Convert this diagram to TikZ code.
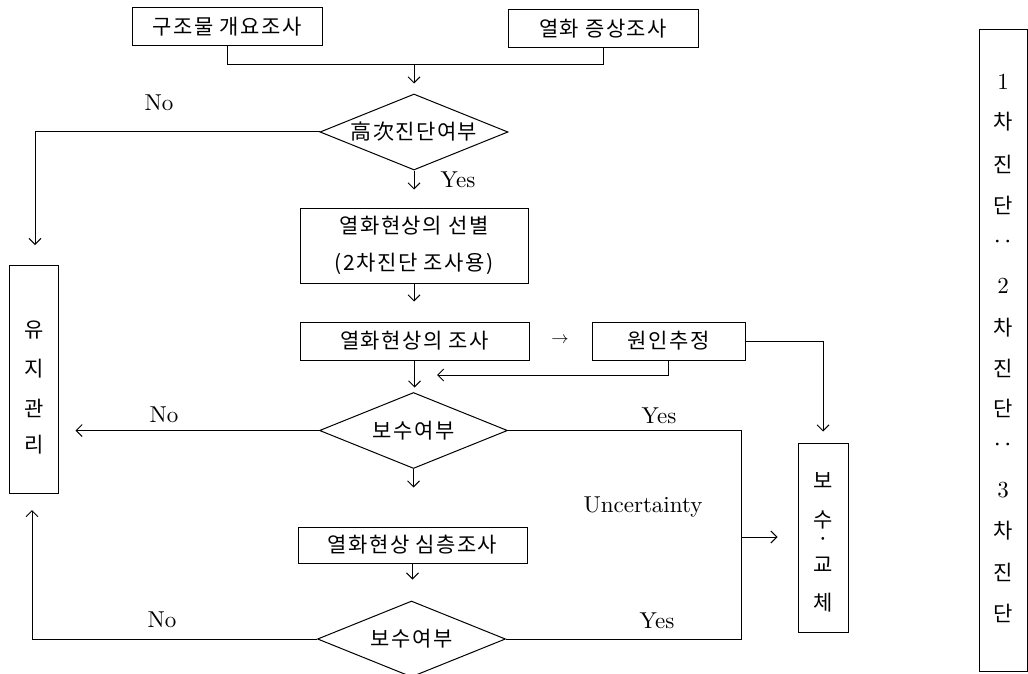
\documentclass[tikz,border=0pt]{standalone}
\usepackage{fontspec}
\newfontfamily\kr[LetterSpace=7]{Noto Sans CJK KR}
\newfontfamily\krv{Noto Sans CJK KR}
\newfontfamily\lat{lmroman10-regular.otf}
\usetikzlibrary{shapes.geometric,arrows.meta}
\begin{document}
\begin{tikzpicture}[x=1pt,y=-1pt,
  box/.style={draw, line width=1pt, inner sep=0pt, align=center, font=\kr\fontsize{21}{37}\selectfont},
  dia/.style={draw, diamond, aspect=2.47, line width=1pt, inner sep=0pt, minimum width=188pt, minimum height=76pt, font=\kr\fontsize{21}{24}\selectfont},
  lbl/.style={font=\lat\fontsize{23}{27}\selectfont, inner sep=0pt},
  vch/.style={font=\krv\fontsize{21}{24}\selectfont, inner sep=0pt},
  vnum/.style={font=\lat\fontsize{23}{26}\selectfont, inner sep=0pt},
  ln/.style={line width=1pt},
  arr/.style={line width=1pt, -{Straight Barb[length=6pt,width=12pt]}},
]
\useasboundingbox (0,0) rectangle (1028,674);

% boxes
\node[box, minimum width=190pt, minimum height=38pt] (A) at (227,27) {구조물 개요조사};
\node[box, minimum width=190pt, minimum height=38pt] (B) at (603,29) {열화 증상조사};
\node[dia] (d0) at (414,132) {高次진단여부};
\node[box, minimum width=228pt, minimum height=75pt] (sel) at (414,245.5) {열화현상의 선별\\(2차진단 조사용)};
\node[box, minimum width=229pt, minimum height=38pt] (cho) at (414.5,341) {열화현상의 조사};
\node[box, minimum width=153pt, minimum height=38pt] (won) at (668.5,341) {원인추정};
\node[dia] (d1) at (413.5,430.5) {보수여부};
\node[box, minimum width=229pt, minimum height=36pt] (sim) at (412.5,545) {열화현상 심층조사};
\node[dia] (d2) at (411.5,639) {보수여부};

% side boxes
\node[box, minimum width=49pt, minimum height=228pt] (yu) at (33.5,379) {};
\node[vch] (yu1) at (34,330) {유};
\node[vch] (yu2) at (34,369) {지};
\node[vch] (yu3) at (34,408) {관};
\node[vch] (yu4) at (34,445) {리};

\node[box, minimum width=50pt, minimum height=189pt] (bosu) at (823,537.5) {};
\node[vch] (bs1) at (823,480) {보};
\node[vch] (bs2) at (823,520) {수};
\node[vch] (bs3) at (823,542) {·};
\node[vch] (bs4) at (823,565) {교};
\node[vch] (bs5) at (823,603) {체};

\node[box, minimum width=48pt, minimum height=641pt] (stage) at (1003,350.5) {};
\node[vnum] (s1) at (1003,82) {1};
\node[vch] (s2) at (1003,122) {차};
\node[vch] (s3) at (1003,164) {진};
\node[vch] (s4) at (1003,205) {단};
\node[vch] (s5) at (1003,245) {‥};
\node[vnum] (s6) at (1003,286) {2};
\node[vch] (s7) at (1003,328) {차};
\node[vch] (s8) at (1003,368) {진};
\node[vch] (s9) at (1003,408) {단};
\node[vch] (s10) at (1003,448) {‥};
\node[vnum] (s11) at (1003,490) {3};
\node[vch] (s12) at (1003,531) {차};
\node[vch] (s13) at (1003,572) {진};
\node[vch] (s14) at (1003,613) {단};

% labels
\node[lbl] (no0) at (159,103) {No};
\node[lbl] (yes0) at (458,180) {Yes};
\node[lbl] (no1) at (164,415) {No};
\node[lbl] (yes1) at (659,416) {Yes};
\node[lbl] (unc) at (643,507) {Uncertainty};
\node[lbl] (no2) at (162,620) {No};
\node[lbl] (yes2) at (657,621) {Yes};
\node[font=\fontsize{17}{19}\selectfont, inner sep=0pt] (smallarr) at (560,340) {$\rightarrow$};

% coordinates
\coordinate (m) at (414,65);
\coordinate (n0) at (35,245);
\coordinate (fb) at (437,375);
\coordinate (n2) at (32,510);
\coordinate (c1) at (741,431);
\coordinate (c2) at (741,639);
\coordinate (c3) at (741,537);

% connectors
\draw[ln] (A.south) -- (A.south |- m) -- (B.south |- m) -- (B.south);
\draw[arr, shorten >=10pt] (m) -- (m |- d0.north);
\draw[arr] (d0.west) -| (n0);
\draw[arr, shorten >=18pt] (d0.south) -- (d0.south |- sel.north);
\draw[arr, shorten >=20pt] (sel.south) -- (sel.south |- cho.north);
\draw[arr, shorten >=4.5pt] (cho.south) -- (cho.south |- d1.north);
\draw[arr] (won.south) |- (fb);
\draw[arr, shorten >=11pt] (won.east) -| (bosu.north);
\draw[arr, shorten >=17pt] (d1.west) -- (d1.west -| yu.east);
\draw[arr, shorten >=39pt] (d1.south) -- (d1.south |- sim.north);
\draw[arr, shorten >=21pt] (sim.south) -- (sim.south |- d2.north);
\draw[arr] (d2.west) -| (n2);
\draw[ln] (d1.east) -- (d1.east -| c1) -- (c2 |- d2.east) -- (d2.east);
\draw[arr, shorten >=20pt] (c3) -- (c3 -| bosu.west);
\end{tikzpicture}
\end{document}
